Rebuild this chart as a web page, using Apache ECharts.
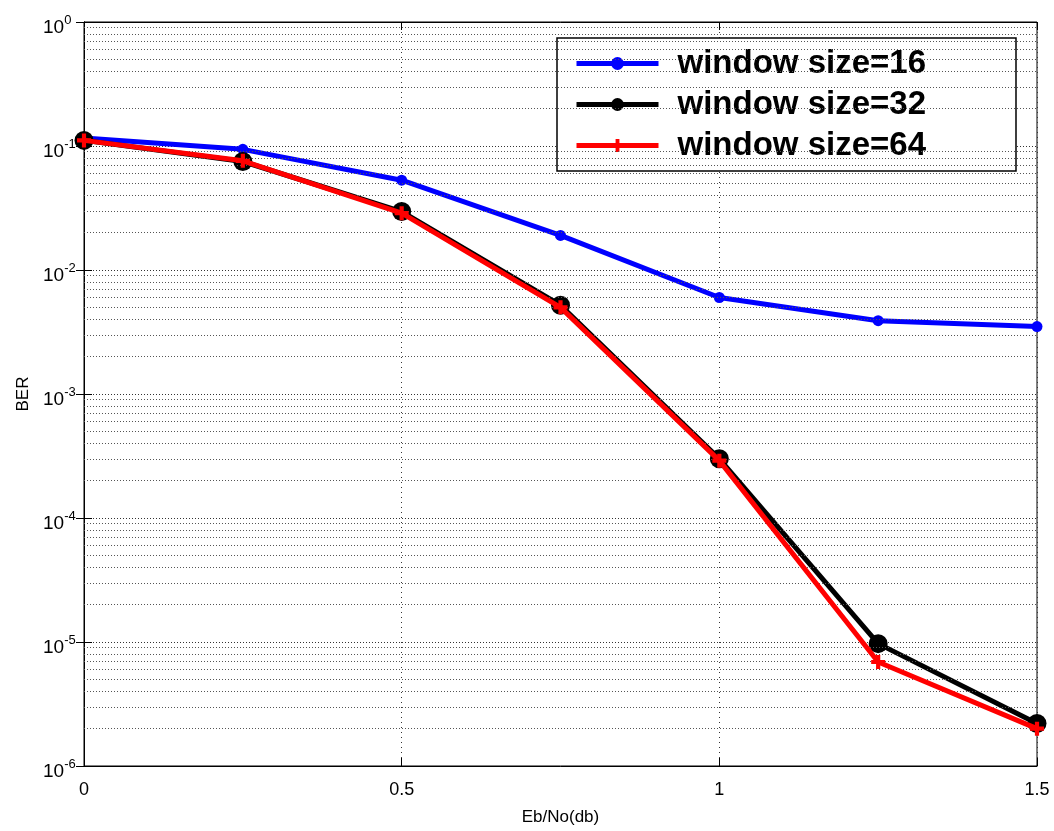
<!DOCTYPE html>
<html>
<head>
<meta charset="utf-8">
<script src="https://cdn.jsdelivr.net/npm/echarts@6/dist/echarts.min.js"></script>
<style>html,body{margin:0;padding:0;background:#fff}#c{width:1054px;height:831px}</style>
</head>
<body>
<div id="c"></div>
<script>
const xValues = [0, 0.25, 0.5, 0.75, 1, 1.25, 1.5];
const ber16 = [0.116, 0.094, 0.053, 0.019, 0.0060, 0.0039, 0.0035];
const ber32 = [0.111, 0.075, 0.0296, 0.0052, 0.00030, 0.0000097, 0.0000022];
const ber64 = [0.111, 0.076, 0.0287, 0.0050, 0.00029, 0.0000069, 0.0000020];
const seriesNames = ['window size=16', 'window size=32', 'window size=64'];
const xTicks = [0, 0.5, 1, 1.5];
const yDecades = [-6, -5, -4, -3, -2, -1, 0];
const minorMantissas = [2, 3, 4, 5, 6, 7, 8, 9];

const FONT = '"Liberation Sans", Arial, Helvetica, sans-serif';
const plusPath = 'path://M3.5,0H6.5V3.5H10V6.5H6.5V10H3.5V6.5H0V3.5H3.5Z';

const minorGrid = [];
yDecades.slice(0, -1).forEach(e => minorMantissas.forEach(m => minorGrid.push({ yAxis: m * Math.pow(10, e) })));

function pairs(ys) { return xValues.map((x, i) => [x, ys[i]]); }

const chart = echarts.init(document.getElementById('c'));
chart.setOption({
  animation: false,
  backgroundColor: '#fff',
  grid: { left: 84, top: 22, right: 17, bottom: 58, show: true, borderColor: '#000', borderWidth: 1, backgroundColor: 'transparent' },
  legend: {
    data: seriesNames,
    left: 557, top: 38,
    orient: 'vertical',
    backgroundColor: '#fff',
    borderColor: '#000', borderWidth: 1.5,
    padding: [9, 90, 9, 17],
    itemWidth: 82, itemHeight: 16, itemGap: 8,
    lineStyle: { width: 5 },
    textStyle: { fontFamily: FONT, fontWeight: 'bold', fontSize: 33, color: '#000', padding: [0, 0, 0, 14] }
  },
  xAxis: [{
    type: 'value', min: 0, max: 1.5, interval: 0.5,
    name: 'Eb/No(db)', nameLocation: 'middle', nameGap: 43,
    nameTextStyle: { fontFamily: FONT, fontSize: 17, color: '#000' },
    axisLine: { show: true, lineStyle: { color: '#000', width: 1 } },
    axisTick: { show: true, inside: true, length: 8, lineStyle: { color: '#000' } },
    axisLabel: { fontFamily: FONT, fontSize: 18, color: '#000', margin: 15, formatter: v => String(v) },
    splitLine: { show: true, lineStyle: { color: '#333', type: [1, 4], width: 1 } }
  }, {
    type: 'value', min: 0, max: 1.5, interval: 0.5, position: 'top',
    axisLine: { show: true, lineStyle: { color: '#000' } },
    axisTick: { show: true, inside: true, length: 8, lineStyle: { color: '#000' } },
    axisLabel: { show: false }, splitLine: { show: false }
  }],
  yAxis: [{
    type: 'log', logBase: 10, min: 1e-6, max: 1,
    name: 'BER', nameLocation: 'middle', nameGap: 52, nameRotate: 90,
    nameTextStyle: { fontFamily: FONT, fontSize: 17, color: '#000' },
    axisLine: { show: true, lineStyle: { color: '#000', width: 1 } },
    axisTick: { show: true, inside: true, length: 8, lineStyle: { color: '#000' } },
    axisLabel: {
      margin: 41, align: 'left',
      formatter: v => '{b|10}{s|' + Math.round(Math.log10(v)) + '}',
      rich: {
        b: { fontFamily: FONT, fontSize: 19, color: '#000', padding: [12, 0, 0, 0] },
        s: { fontFamily: FONT, fontSize: 13, color: '#000', padding: [0, 0, 4, 0] }
      }
    },
    splitLine: { show: true, lineStyle: { color: '#333', type: [1, 2], width: 1 } }
  }, {
    type: 'log', logBase: 10, min: 1e-6, max: 1, position: 'right',
    axisLine: { show: true, lineStyle: { color: '#000' } },
    axisTick: { show: true, inside: true, length: 8, lineStyle: { color: '#000' } },
    axisLabel: { show: false }, splitLine: { show: false }
  }],
  series: [
    {
      type: 'line', name: '_grid', data: [], silent: true, z: 1,
      markLine: { silent: true, symbol: 'none', label: { show: false }, animation: false, precision: 12,
        lineStyle: { color: '#555', type: [1, 2], width: 1 }, data: minorGrid }
    },
    {
      type: 'line', name: seriesNames[0], data: pairs(ber16), z: 3, clip: false,
      lineStyle: { color: '#0000ff', width: 5 }, itemStyle: { color: '#0000ff' },
      symbol: 'circle', symbolSize: 11, showAllSymbol: true
    },
    {
      type: 'line', name: seriesNames[1], data: pairs(ber32), z: 4, clip: false,
      lineStyle: { color: '#000000', width: 5 }, itemStyle: { color: '#000000' },
      symbol: 'circle', symbolSize: 19, showAllSymbol: true
    },
    {
      type: 'line', name: seriesNames[2], data: pairs(ber64), z: 5, clip: false,
      lineStyle: { color: '#ff0000', width: 5 }, itemStyle: { color: '#ff0000' },
      symbol: plusPath, symbolSize: 14, showAllSymbol: true
    }
  ]
});
</script>
</body>
</html>
